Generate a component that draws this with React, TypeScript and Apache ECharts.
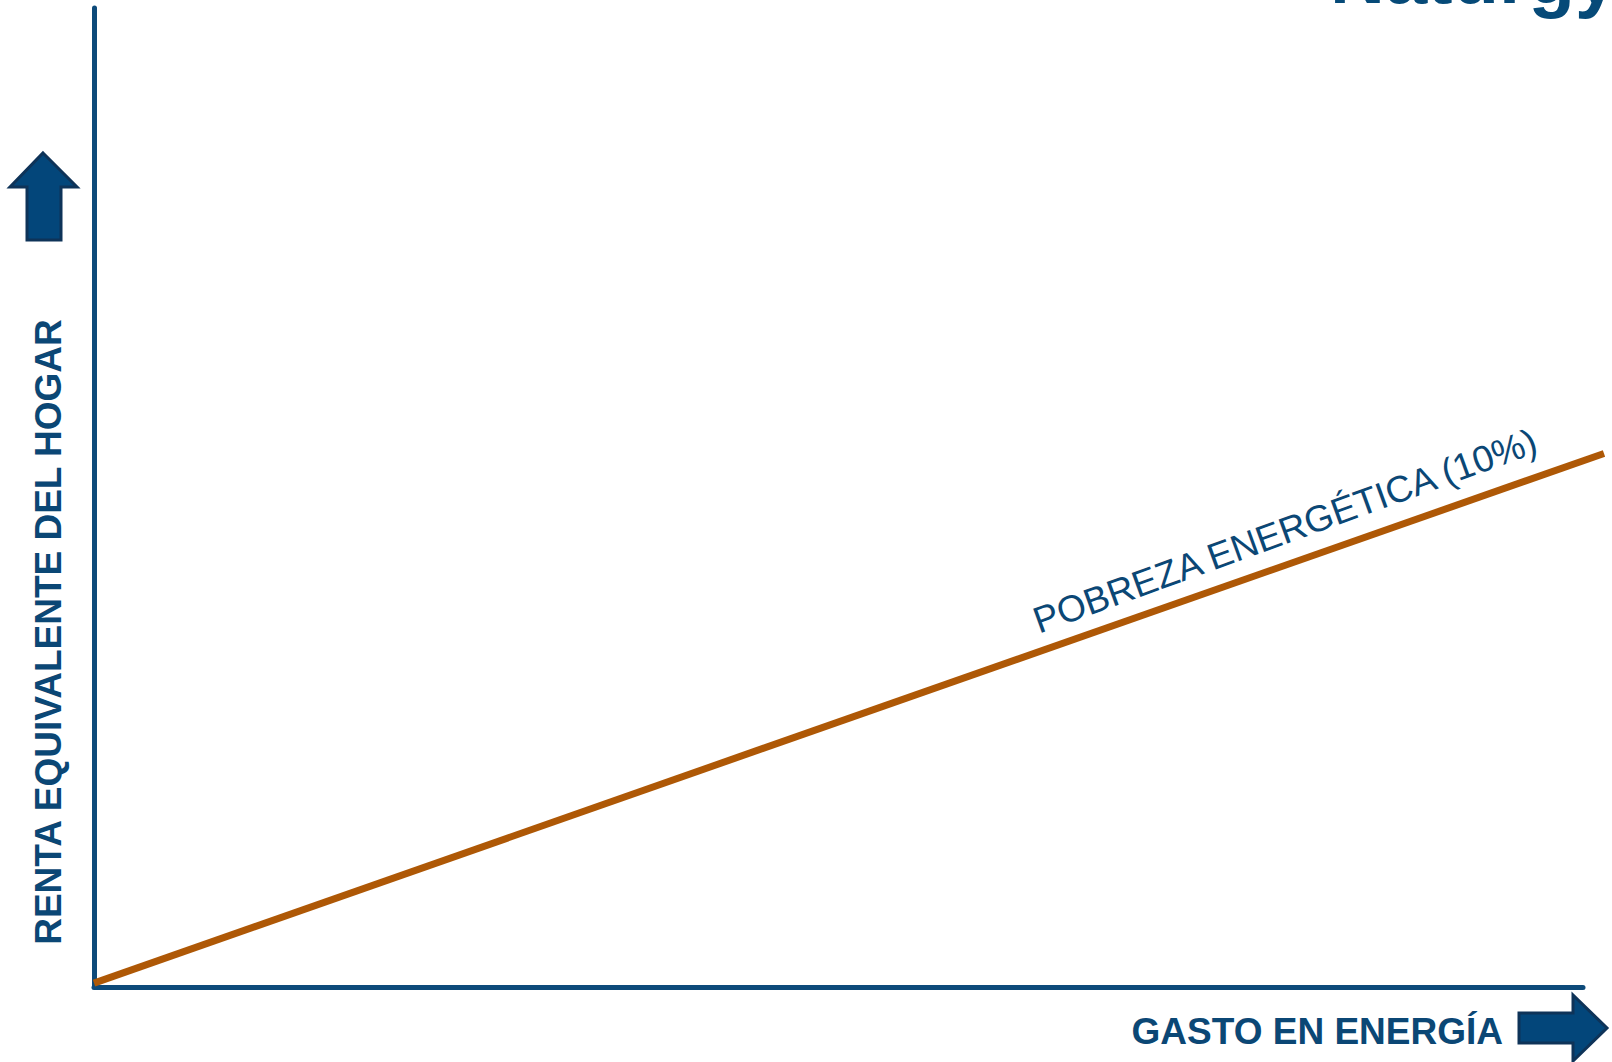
import React, { useEffect, useRef } from "react";
import * as echarts from "echarts";

// Conceptual chart: energy spending (x) vs. equivalent household income (y)
const energySpending: number[] = [0, 100];
const householdIncome: number[] = [0.4, 54.5];
const lineName = "POBREZA ENERGÉTICA (10%)";
const xAxisName = "GASTO EN ENERGÍA";
const yAxisName = "RENTA EQUIVALENTE DEL HOGAR";
const brandText = "Naturgy";

const BLUE = "#0B4775";
const AXIS = "#0D4A7A";
const ARROW_FILL = "#03467A";
const ARROW_STROKE = "#0E3358";
const ORANGE = "#AE5806";
const FONT = "'Liberation Sans', Arial, sans-serif";

const hiddenAxis = {
  type: "value",
  min: 0,
  max: 100,
  axisLine: { show: false },
  axisTick: { show: false },
  axisLabel: { show: false },
  splitLine: { show: false },
};

const visibleAxis = {
  type: "value",
  min: 0,
  max: 100,
  axisLine: { show: true, lineStyle: { color: AXIS, width: 5 } },
  axisTick: { show: false },
  axisLabel: { show: false },
  splitLine: { show: false },
};

export default function App() {
  const ref = useRef<HTMLDivElement>(null);

  useEffect(() => {
    if (!ref.current) return;
    const chart = echarts.init(ref.current, undefined, { renderer: "svg" });
    const data = energySpending.map((x, i) => [x, householdIncome[i]]);
    chart.setOption({
      animation: false,
      backgroundColor: "#ffffff",
      grid: [
        { left: 94, right: 29, top: 8, bottom: 75, outerBoundsMode: "none" },
        { left: 94, right: 8, top: 8, bottom: 75, outerBoundsMode: "none" },
      ],
      xAxis: [
        { ...visibleAxis, gridIndex: 0 },
        { ...hiddenAxis, gridIndex: 1 },
      ],
      yAxis: [
        { ...visibleAxis, gridIndex: 0 },
        { ...hiddenAxis, gridIndex: 1 },
      ],
      series: [
        {
          type: "line",
          name: lineName,
          xAxisIndex: 1,
          yAxisIndex: 1,
          data,
          symbol: "none",
          clip: false,
          lineStyle: { color: ORANGE, width: 7 },
        },
      ],
      graphic: [
        {
          type: "text",
          x: 1330,
          y: -24,
          style: {
            text: brandText,
            fill: "#064A78",
            font: `bold 76px ${FONT}`,
            align: "left",
            verticalAlign: "middle",
          },
        },
        {
          type: "text",
          x: 1285,
          y: 531,
          rotation: (20 * Math.PI) / 180,
          style: {
            text: lineName,
            fill: BLUE,
            font: `37px ${FONT}`,
            align: "center",
            verticalAlign: "middle",
          },
        },
        {
          type: "text",
          x: 48,
          y: 632,
          rotation: Math.PI / 2,
          style: {
            text: yAxisName,
            fill: BLUE,
            font: `bold 37px ${FONT}`,
            align: "center",
            verticalAlign: "middle",
          },
        },
        {
          type: "text",
          x: 1503,
          y: 1031,
          style: {
            text: xAxisName,
            fill: BLUE,
            font: `bold 37px ${FONT}`,
            align: "right",
            verticalAlign: "middle",
          },
        },
        {
          type: "polygon",
          shape: {
            points: [
              [43, 153],
              [77, 187],
              [61, 187],
              [61, 240],
              [27, 240],
              [27, 187],
              [10, 187],
            ],
          },
          style: { fill: ARROW_FILL, stroke: ARROW_STROKE, lineWidth: 3 },
        },
        {
          type: "polygon",
          shape: {
            points: [
              [1519, 1013],
              [1573, 1013],
              [1573, 995],
              [1607, 1028],
              [1573, 1061],
              [1573, 1043],
              [1519, 1043],
            ],
          },
          style: { fill: ARROW_FILL, stroke: ARROW_STROKE, lineWidth: 3 },
        },
      ],
    });
    return () => chart.dispose();
  }, []);

  return (
    <div
      ref={ref}
      style={{ position: "fixed", left: 0, top: 0, width: 1612, height: 1062, background: "#fff" }}
    />
  );
}
